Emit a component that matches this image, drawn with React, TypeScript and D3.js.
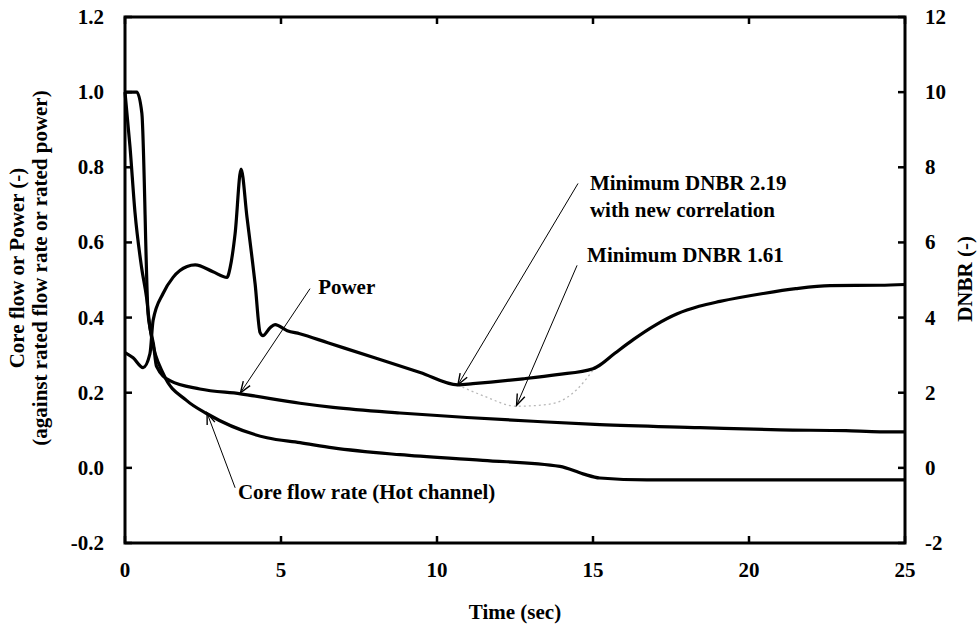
import React from "react";
import * as d3 from "d3";

// ---------- data ----------
const powerT = [0, 0.38, 0.54, 0.74, 0.8, 0.91, 1.01, 1.44, 2.4, 3.7, 5.61, 6.67, 8.81, 10.96, 13.08, 15.22, 18.43, 21.0, 23.1, 24.2, 25];
const powerV = [1.0, 1.0, 0.944, 0.41, 0.373, 0.33, 0.27, 0.232, 0.21, 0.197, 0.172, 0.161, 0.146, 0.134, 0.124, 0.115, 0.107, 0.101, 0.099, 0.096, 0.096];

const flowT = [0, 0.16, 0.32, 0.53, 0.69, 0.8, 1.23, 1.98, 2.63, 4.55, 5.61, 6.67, 8.81, 11.47, 13.94, 14.68, 15.22, 16.73, 20, 25];
const flowV = [1.0, 0.855, 0.68, 0.534, 0.454, 0.374, 0.25, 0.179, 0.144, 0.08, 0.067, 0.053, 0.035, 0.02, 0.004, -0.016, -0.027, -0.032, -0.032, -0.032];

const dnbrT = [0, 0.26, 0.58, 0.8, 0.9, 1.22, 1.54, 1.99, 2.25, 2.82, 3.27, 3.37, 3.53, 3.72, 3.91, 4.07, 4.17, 4.33, 4.42, 4.65, 4.81, 5.2, 5.6, 6.5, 8.0, 9.46, 10.67, 11.15, 12.76, 13.85, 15.0, 15.13, 15.7, 16.3, 17.0, 17.7, 18.4, 19.07, 20.45, 21.5, 22.6, 24.2, 25];
const dnbrV = [3.07, 2.93, 2.67, 3.04, 3.92, 4.64, 5.07, 5.36, 5.4, 5.22, 5.07, 5.33, 6.24, 7.95, 6.67, 5.6, 4.9, 3.6, 3.52, 3.73, 3.81, 3.65, 3.57, 3.33, 2.93, 2.54, 2.21, 2.24, 2.37, 2.48, 2.64, 2.69, 3.05, 3.42, 3.8, 4.1, 4.3, 4.43, 4.64, 4.77, 4.85, 4.86, 4.88];

const dnbrOldT = [10.67, 10.95, 11.48, 12.55, 13.2, 13.84, 14.5, 15.0];
const dnbrOldV = [2.21, 2.1, 1.92, 1.64, 1.66, 1.74, 2.1, 2.6];

const xTicks = [0, 5, 10, 15, 20, 25];
const yLeftTicks = [-0.2, 0, 0.2, 0.4, 0.6, 0.8, 1.0, 1.2];
const yRightTicks = [-2, 0, 2, 4, 6, 8, 10, 12];

const xLabel = "Time (sec)";
const yLeftLabel1 = "Core flow or Power (-)";
const yLeftLabel2 = "(against rated flow rate or rated power)";
const yRightLabel = "DNBR (-)";

// annotations: tip / tail / text in data coordinates
const annPower = { text: "Power", axis: "L", tip: [3.7, 0.2], tail: [5.93, 0.477], at: [6.19, 0.464] };
const annFlow = { text: "Core flow rate (Hot channel)", axis: "L", tip: [2.63, 0.146], tail: [3.53, -0.053], at: [3.62, -0.083] };
const annDnbrNew = { lines: ["Minimum DNBR 2.19", "with new correlation"], axis: "R", tip: [10.67, 2.21], tail: [14.52, 7.57], at: [14.9, 7.39], at2: [14.9, 6.69] };
const annDnbrOld = { text: "Minimum DNBR 1.61", axis: "R", tip: [12.55, 1.66], tail: [14.49, 5.39], at: [14.81, 5.49] };

// ---------- layout ----------
const W = 979;
const H = 625;
const X0 = 125, X1 = 905, Y0 = 17, Y1 = 543;
const FONT = "'Liberation Serif', 'Times New Roman', Times, serif";
const FS = 21;

function zip(a: number[], b: number[]): [number, number][] {
  return a.map((v, i) => [v, b[i]]);
}

function Arrow({ x1, y1, x2, y2 }: { x1: number; y1: number; x2: number; y2: number }) {
  const ang = Math.atan2(y2 - y1, x2 - x1);
  const L = 12;
  const a = (20 * Math.PI) / 180;
  const h1x = x2 - L * Math.cos(ang - a);
  const h1y = y2 - L * Math.sin(ang - a);
  const h2x = x2 - L * Math.cos(ang + a);
  const h2y = y2 - L * Math.sin(ang + a);
  return (
    <g stroke="#000" strokeWidth={1} fill="none">
      <line x1={x1} y1={y1} x2={x2} y2={y2} />
      <polyline points={`${h1x},${h1y} ${x2},${y2} ${h2x},${h2y}`} strokeWidth={1.4} />
    </g>
  );
}

export default function App() {
  const x = d3.scaleLinear().domain([0, 25]).range([X0, X1]);
  const yL = d3.scaleLinear().domain([-0.2, 1.2]).range([Y1, Y0]);
  const yR = d3.scaleLinear().domain([-2, 12]).range([Y1, Y0]);

  const lineL = d3.line<[number, number]>().x((d) => x(d[0])).y((d) => yL(d[1])).curve(d3.curveMonotoneX);
  const lineR = d3.line<[number, number]>().x((d) => x(d[0])).y((d) => yR(d[1])).curve(d3.curveMonotoneX);

  const sc = (axis: string) => (axis === "L" ? yL : yR);
  const pt = (p: number[], axis: string) => [x(p[0]), sc(axis)(p[1])];

  const ann = [annPower, annFlow, annDnbrOld];

  const textStyle = { fontFamily: FONT, fontWeight: "bold" as const, fontSize: FS, fill: "#000" };

  const newTip = pt(annDnbrNew.tip, "R");
  const newTail = pt(annDnbrNew.tail, "R");
  const newAt1 = pt(annDnbrNew.at, "R");
  const newAt2 = pt(annDnbrNew.at2, "R");

  return (
    <svg width={W} height={H} style={{ position: "absolute", left: 0, top: 0, background: "#fff" }}>
      <rect x={0} y={0} width={W} height={H} fill="#fff" />

      {/* curves */}
      <path d={lineR(zip(dnbrOldT, dnbrOldV)) || ""} fill="none" stroke="#b8b8b8" strokeWidth={1.3} strokeDasharray="2,3" />
      <path d={lineL(zip(powerT, powerV)) || ""} fill="none" stroke="#000" strokeWidth={3.2} strokeLinejoin="round" />
      <path d={lineL(zip(flowT, flowV)) || ""} fill="none" stroke="#000" strokeWidth={3.2} strokeLinejoin="round" />
      <path d={lineR(zip(dnbrT, dnbrV)) || ""} fill="none" stroke="#000" strokeWidth={3.2} strokeLinejoin="round" />

      {/* frame */}
      <rect x={X0} y={Y0} width={X1 - X0} height={Y1 - Y0} fill="none" stroke="#000" strokeWidth={3} />

      {/* ticks */}
      <g stroke="#000" strokeWidth={2.5}>
        {yLeftTicks.map((v) => (
          <line key={"lt" + v} x1={X0} x2={X0 + 7} y1={yL(v)} y2={yL(v)} />
        ))}
        {yRightTicks.map((v) => (
          <line key={"rt" + v} x1={X1 - 7} x2={X1} y1={yR(v)} y2={yR(v)} />
        ))}
        {xTicks.map((v) => (
          <g key={"xt" + v}>
            <line x1={x(v)} x2={x(v)} y1={Y1} y2={Y1 - 7} />
            <line x1={x(v)} x2={x(v)} y1={Y0} y2={Y0 + 7} />
          </g>
        ))}
      </g>

      {/* tick labels */}
      <g>
        {yLeftTicks.map((v) => (
          <text key={"ll" + v} x={X0 - 21} y={yL(v) + 7} textAnchor="end" {...textStyle}>
            {v.toFixed(1)}
          </text>
        ))}
        {yRightTicks.map((v) => (
          <text key={"rl" + v} x={X1 + 20} y={yR(v) + 7} textAnchor="start" {...textStyle}>
            {String(v)}
          </text>
        ))}
        {xTicks.map((v) => (
          <text key={"xl" + v} x={x(v)} y={577} textAnchor="middle" {...textStyle}>
            {String(v)}
          </text>
        ))}
      </g>

      {/* axis titles */}
      <text x={(X0 + X1) / 2} y={619} textAnchor="middle" {...textStyle}>
        {xLabel}
      </text>
      <text transform={`translate(24,${(Y0 + Y1) / 2 - 12}) rotate(-90)`} textAnchor="middle" {...textStyle}>
        {yLeftLabel1}
      </text>
      <text transform={`translate(47,${(Y0 + Y1) / 2 - 12}) rotate(-90)`} textAnchor="middle" {...textStyle}>
        {yLeftLabel2}
      </text>
      <text transform={`translate(972,279) rotate(-90)`} textAnchor="middle" {...textStyle}>
        {yRightLabel}
      </text>

      {/* annotations */}
      {ann.map((a, i) => {
        const tip = pt(a.tip, a.axis);
        const tail = pt(a.tail, a.axis);
        const at = pt(a.at, a.axis);
        return (
          <g key={"an" + i}>
            <Arrow x1={tail[0]} y1={tail[1]} x2={tip[0]} y2={tip[1]} />
            <text x={at[0]} y={at[1]} {...textStyle}>
              {a.text}
            </text>
          </g>
        );
      })}
      <Arrow x1={newTail[0]} y1={newTail[1]} x2={newTip[0]} y2={newTip[1]} />
      <text x={newAt1[0]} y={newAt1[1]} {...textStyle}>
        {annDnbrNew.lines[0]}
      </text>
      <text x={newAt2[0]} y={newAt2[1]} {...textStyle}>
        {annDnbrNew.lines[1]}
      </text>
    </svg>
  );
}
